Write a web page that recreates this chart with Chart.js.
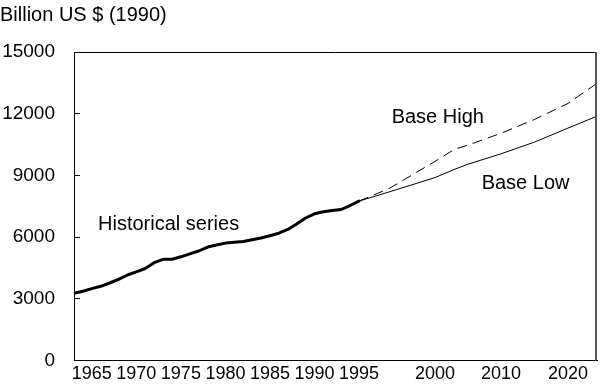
<!DOCTYPE html>
<html>
<head>
<meta charset="utf-8">
<script src="https://cdn.jsdelivr.net/npm/chart.js@4.4.1/dist/chart.umd.min.js"></script>
<style>
  html, body { margin: 0; padding: 0; background: #ffffff; }
  #wrap { width: 600px; height: 386px; position: relative; }
</style>
</head>
<body>
<div id="wrap"><canvas id="chart" width="600" height="386"></canvas></div>
<script>
// ---------------- data ----------------
const titleText = 'Billion US $ (1990)';

const histYears = [1963, 1964, 1965, 1966, 1967, 1968, 1969, 1970, 1971, 1972,
                   1973, 1974, 1975, 1976, 1977, 1978, 1979, 1980, 1981, 1982,
                   1983, 1984, 1985, 1986, 1987, 1988, 1989, 1990, 1991, 1992,
                   1993, 1994, 1995];
const histValues = [3267, 3369, 3496, 3608, 3768, 3948, 4157, 4313, 4473, 4755,
                    4920, 4920, 5042, 5188, 5324, 5518, 5616, 5708, 5747, 5786,
                    5868, 5956, 6068, 6189, 6374, 6637, 6928, 7132, 7230, 7293,
                    7342, 7536, 7750];

const projYears = [1995, 1997, 2000, 2003, 2005, 2010, 2015, 2020, 2025];
const baseHigh  = [7750, 8370, 9680, 10280, 10470, 11050, 11720, 12500, 13480];
const baseLow   = [7750, 8200, 8894, 9300, 9545, 10048, 10620, 11300, 11880];

const yTickValues = [0, 3000, 6000, 9000, 12000, 15000];
const xTickYears  = [1965, 1970, 1975, 1980, 1985, 1990, 1995, 2000, 2010, 2020];

const seriesNotes = [
  { text: 'Historical series', year: 1965.7, value: 6345 },
  { text: 'Base High',         year: 1997.15, value: 11533 },
  { text: 'Base Low',          year: 2007.07, value: 8324 }
];

// ------------- broken (piecewise) year axis -------------
const xBreakYears     = [1963, 1995, 2000, 2010, 2020, 2025];
const xBreakFractions = [0, 0.5449, 0.6902, 0.8164, 0.9446, 1];

function yearToFraction(v) {
  const n = xBreakYears.length;
  if (v <= xBreakYears[0]) {
    const r = (xBreakFractions[1] - xBreakFractions[0]) / (xBreakYears[1] - xBreakYears[0]);
    return xBreakFractions[0] + (v - xBreakYears[0]) * r;
  }
  for (let i = 1; i < n; i++) {
    if (v <= xBreakYears[i] || i === n - 1) {
      const r = (xBreakFractions[i] - xBreakFractions[i - 1]) / (xBreakYears[i] - xBreakYears[i - 1]);
      return xBreakFractions[i - 1] + (v - xBreakYears[i - 1]) * r;
    }
  }
  return 1;
}
function fractionToYear(f) {
  const n = xBreakFractions.length;
  for (let i = 1; i < n; i++) {
    if (f <= xBreakFractions[i] || i === n - 1) {
      const r = (xBreakYears[i] - xBreakYears[i - 1]) / (xBreakFractions[i] - xBreakFractions[i - 1]);
      return xBreakYears[i - 1] + (f - xBreakFractions[i - 1]) * r;
    }
  }
  return xBreakYears[n - 1];
}

const BaseLinear = Chart.LinearScale || Chart.registry.getScale('linear');
class BrokenYearScale extends BaseLinear {
  getPixelForValue(value) {
    if (value === null || value === undefined || isNaN(value)) return NaN;
    return this.getPixelForDecimal(yearToFraction(value));
  }
  getValueForPixel(pixel) {
    return fractionToYear(this.getDecimalForPixel(pixel));
  }
}
BrokenYearScale.id = 'brokenYear';
BrokenYearScale.defaults = {};
Chart.register(BrokenYearScale);

// ---------------- styling ----------------
const FONT = "'Liberation Sans', Arial, Helvetica, sans-serif";

const frameAndNotes = {
  id: 'frameAndNotes',
  afterDatasetsDraw(chart) {
    const { ctx, chartArea: a, scales } = chart;
    ctx.save();
    // top frame line
    ctx.strokeStyle = '#000';
    ctx.lineWidth = 1;
    ctx.beginPath();
    ctx.moveTo(a.left, Math.round(a.top) + 0.5);
    ctx.lineTo(a.right, Math.round(a.top) + 0.5);
    ctx.stroke();
    // right frame line
    ctx.strokeStyle = '#555';
    ctx.lineWidth = 2;
    ctx.beginPath();
    ctx.moveTo(Math.round(a.right) - 1, a.top);
    ctx.lineTo(Math.round(a.right) - 1, a.bottom);
    ctx.stroke();
    // inward ticks on the value axis
    const ys = scales.y;
    ctx.strokeStyle = '#000';
    ctx.lineWidth = 1;
    ys.ticks.forEach(t => {
      const py = Math.round(ys.getPixelForValue(t.value) - 0.5) + 0.5;
      ctx.beginPath();
      ctx.moveTo(a.left, py);
      ctx.lineTo(a.left + 6, py);
      ctx.stroke();
    });
    // series labels
    ctx.fillStyle = '#000';
    ctx.font = '20px ' + FONT;
    ctx.textAlign = 'left';
    ctx.textBaseline = 'alphabetic';
    seriesNotes.forEach(n => {
      ctx.fillText(n.text, scales.x.getPixelForValue(n.year), ys.getPixelForValue(n.value));
    });
    ctx.restore();
  }
};

const zip = (xs, ys) => xs.map((x, i) => ({ x: x, y: ys[i] }));

new Chart(document.getElementById('chart'), {
  type: 'line',
  data: {
    datasets: [
      { label: 'Historical series', data: zip(histYears, histValues),
        borderColor: '#000', borderWidth: 3, pointRadius: 0, tension: 0,
        borderCapStyle: 'round', borderJoinStyle: 'round' },
      { label: 'Base High', data: zip(projYears, baseHigh),
        borderColor: '#000', borderWidth: 1, borderDash: [10, 6], pointRadius: 0, tension: 0 },
      { label: 'Base Low', data: zip(projYears, baseLow),
        borderColor: '#000', borderWidth: 1, pointRadius: 0, tension: 0 }
    ]
  },
  options: {
    responsive: false,
    devicePixelRatio: 1,
    animation: false,
    events: [],
    layout: { padding: { left: 0, right: 3, top: 0, bottom: 0 } },
    plugins: {
      legend: { display: false },
      tooltip: { enabled: false },
      title: {
        display: true, text: titleText, align: 'start', color: '#000',
        font: { family: FONT, size: 20, weight: 'normal' },
        padding: { top: 3, bottom: 25 }
      }
    },
    scales: {
      x: {
        type: 'brokenYear', min: 1963, max: 2025,
        grid: { display: true, drawOnChartArea: false, drawTicks: false },
        border: { display: true, color: '#000', width: 1 },
        ticks: { autoSkip: false, maxRotation: 0, minRotation: 0, padding: 3, color: '#000',
                 font: { family: FONT, size: 18 }, callback: v => String(v) },
        afterBuildTicks: s => { s.ticks = xTickYears.map(v => ({ value: v })); },
        afterFit: s => { s.height = 25.5; s.paddingLeft = 0; s.paddingRight = 0; }
      },
      y: {
        type: 'linear', min: 0, max: 15000,
        grid: { display: true, drawOnChartArea: false, drawTicks: false },
        border: { display: true, color: '#000', width: 1 },
        ticks: { padding: 19, color: '#000', font: { family: FONT, size: 19 },
                 callback: v => String(v) },
        afterBuildTicks: s => { s.ticks = yTickValues.map(v => ({ value: v })); },
        afterFit: s => { s.width = 74; s.paddingTop = 0; s.paddingBottom = 0; }
      }
    }
  },
  plugins: [frameAndNotes]
});
</script>
</body>
</html>
